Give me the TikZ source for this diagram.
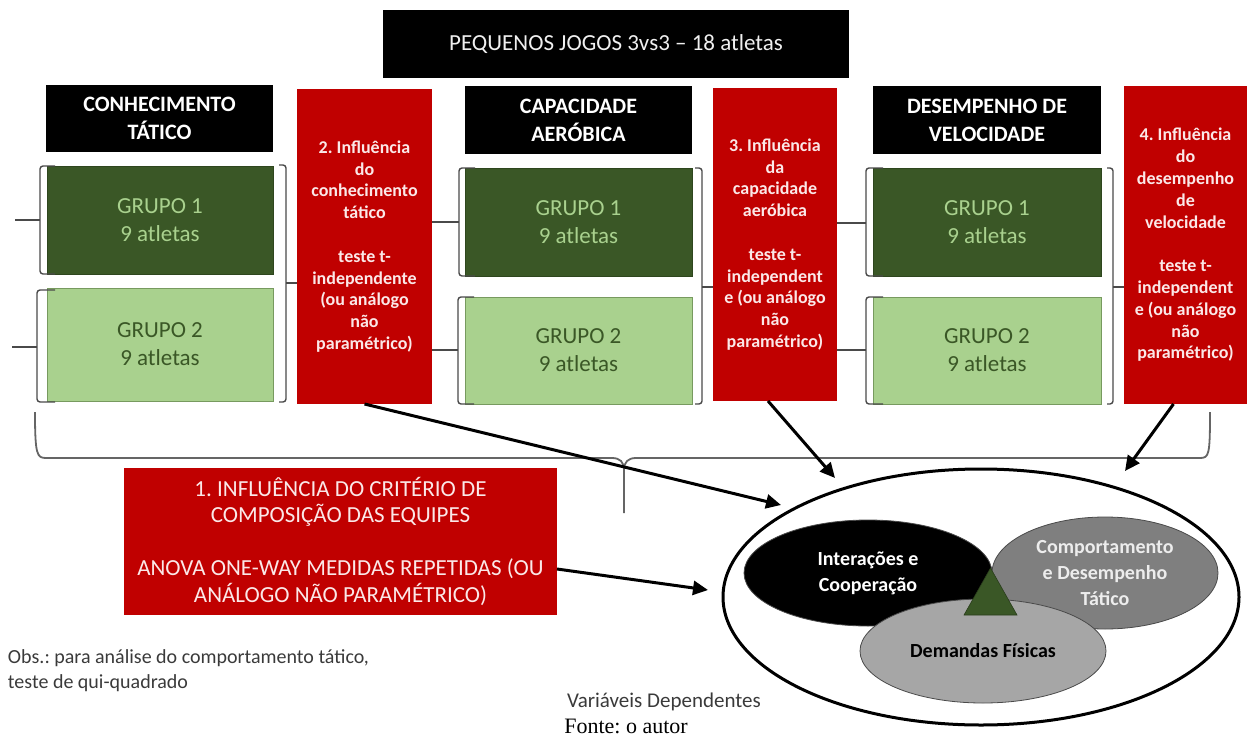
\documentclass[tikz,border=0pt]{standalone}
\usepackage{fontspec}
\setmainfont{Carlito}
\newfontfamily\capfont{Liberation Serif}
\usetikzlibrary{shapes.geometric,arrows.meta,calc}
\frenchspacing

\definecolor{redbox}{HTML}{C00000}
\definecolor{darkgreen}{HTML}{3A5726}
\definecolor{lightgreen}{HTML}{A9D18E}
\definecolor{bracegray}{HTML}{4A4A4A}
\definecolor{textgray}{HTML}{3A3A3A}
\definecolor{midgray}{HTML}{7F7F7F}
\definecolor{lightgray}{HTML}{A6A6A6}
\definecolor{pinkwhite}{HTML}{FBE8E8}

\newcommand\fsz[2]{\fontsize{#1}{#2}\selectfont}

\begin{document}
\begin{tikzpicture}[x=1pt,y=-1pt,
  every node/.style={inner sep=0pt,outer sep=0pt},
  blackhead/.style={rectangle,fill=black,text=white,align=center,font=\fsz{22}{28}\bfseries},
  grpdark/.style={rectangle,fill=darkgreen,draw=darkgreen!80!black,line width=0.6pt,text=lightgreen,align=center,font=\fsz{23}{28}},
  grplight/.style={rectangle,fill=lightgreen,draw=darkgreen!45!lightgreen,line width=0.6pt,text=darkgreen,align=center,font=\fsz{23}{28}},
  testbox/.style={rectangle,fill=redbox,text=pinkwhite,align=center,font=\fsz{18}{21.8}\bfseries},
  brk/.style={draw=bracegray,line width=1.4pt,rounded corners=3pt},
  bigbrace/.style={draw=bracegray!85!white,line width=1.8pt},
  arr/.style={draw=black,line width=3pt,-{Triangle[length=15pt,width=14pt]}},
  venn/.style={ellipse,draw=bracegray,line width=0.8pt,align=center,font=\fsz{20}{26}\bfseries},
  note/.style={text=textgray,font=\fsz{20}{25},align=left}
]
\useasboundingbox (0,0) rectangle (1252,738);

% title bar
\node[rectangle,fill=black,text=white!94!black,font=\fsz{23}{28},minimum width=466,minimum height=68]
  (title) at (616,44) {PEQUENOS JOGOS 3vs3 -- 18 atletas};

% column headers
\node[blackhead,minimum width=227,minimum height=67] (h1) at (159.5,118.5) {CONHECIMENTO\\TÁTICO};
\node[blackhead,minimum width=227,minimum height=68] (h2) at (578.5,120) {CAPACIDADE\\AERÓBICA};
\node[blackhead,minimum width=228,minimum height=68] (h3) at (987,120) {DESEMPENHO DE\\VELOCIDADE};

% groups
\node[grpdark,minimum width=226,minimum height=108] (g11) at (160,220) {GRUPO 1\\9 atletas};
\node[grplight,minimum width=226,minimum height=113] (g12) at (160,344.5) {GRUPO 2\\9 atletas};
\node[grpdark,minimum width=227,minimum height=108] (g21) at (578.5,222) {GRUPO 1\\9 atletas};
\node[grplight,minimum width=227,minimum height=107] (g22) at (578.5,350.5) {GRUPO 2\\9 atletas};
\node[grpdark,minimum width=228,minimum height=108] (g31) at (987,222) {GRUPO 1\\9 atletas};
\node[grplight,minimum width=228,minimum height=107] (g32) at (987,350.5) {GRUPO 2\\9 atletas};

% pairwise tests
\node[testbox,minimum width=135,minimum height=315] (red2) at (364.5,246.5)
  {2. Influência\\do\\conhecimento\\tático\\[21.8pt]teste t-\\independente\\(ou análogo\\não\\paramétrico)};
\node[testbox,minimum width=124,minimum height=313] (red3) at (775,244.5)
  {3. Influência\\da\\capacidade\\aeróbica\\[21.8pt]teste t-\\independent\\e (ou análogo\\não\\paramétrico)};
\node[testbox,minimum width=123,minimum height=318] (red4) at (1185.5,245)
  {4. Influência\\do\\desempenho\\de\\velocidade\\[21.8pt]teste t-\\independent\\e (ou análogo\\não\\paramétrico)};

% overall test
\node[rectangle,fill=redbox,text=pinkwhite,align=center,font=\fsz{23}{26.5},minimum width=433,minimum height=147]
  (red1) at (340.5,541)
  {1. INFLUÊNCIA DO CRITÉRIO DE\\COMPOSIÇÃO DAS EQUIPES\\[26.5pt]ANOVA ONE-WAY MEDIDAS REPETIDAS (OU\\ANÁLOGO NÃO PARAMÉTRICO)};

% brackets, column 1
\draw[brk] (55,166) -- (40,166) -- (40,274) -- (55,274);
\draw[brk] (40,220) -- (15,220);
\draw[brk] (55,290) -- (37,290) -- (37,402) -- (55,402);
\draw[brk] (37,347) -- (12,347);
\draw[brk] (279,165) -- (286,165) -- (286,402) -- (279,402);
\draw[brk] (286,283) -- (297,283);
% brackets, column 2
\draw[brk] (475,168) -- (459,168) -- (459,276) -- (475,276);
\draw[brk] (432,222) -- (459,222);
\draw[brk] (474,297) -- (458,297) -- (458,404) -- (474,404);
\draw[brk] (432,350) -- (458,350);
\draw[brk] (695,168) -- (702,168) -- (702,404) -- (695,404);
\draw[brk] (702,287) -- (713,287);
% brackets, column 3
\draw[brk] (883,168) -- (866,168) -- (866,276) -- (883,276);
\draw[brk] (837,223) -- (866,223);
\draw[brk] (883,297) -- (866,297) -- (866,404) -- (883,404);
\draw[brk] (837,350) -- (866,350);
\draw[brk] (1107,168) -- (1113,168) -- (1113,404) -- (1107,404);
\draw[brk] (1113,287) -- (1124,287);

% brace under all three criteria
\draw[bigbrace] (35,412) .. controls (35,455) and (37,458) .. (46,458) -- (612,458)
  .. controls (620,458) and (624,462) .. (624,470) -- (624,513);
\draw[bigbrace] (624,470) .. controls (624,462) and (628,458) .. (636,458) -- (1200,458)
  .. controls (1209,458) and (1210,455) .. (1210,412);

% dependent variables
\node[ellipse,draw=black,line width=3pt,minimum width=516,minimum height=256] (dv) at (981,597) {};
\node[venn,fill=black,text=white,minimum width=248,minimum height=106] (ic) at (868,573) {Interações e\\Cooperação};
\node[venn,fill=midgray,text=white!93!black,minimum width=226,minimum height=112] (cd) at (1105,573) {Comportamento\\e Desempenho\\Tático};
\node[venn,fill=lightgray,text=black,minimum width=246,minimum height=104] (df) at (983,651) {Demandas Físicas};
\fill[darkgreen,draw=darkgreen!70!black,line width=0.6pt] (964,615) -- (1017,615) -- (990.5,568) -- cycle;

% arrows into the dependent variables
\coordinate (t1) at (708,590);
\coordinate (t2) at (781,505);
\coordinate (t3) at (835,478);
\coordinate (t4) at (1125,471);
\draw[arr] ($(red1.east)+(0,28)$) -- (t1);
\draw[arr] (red2.south) -- (t2);
\draw[arr] ($(red3.south)+(-7,0)$) -- (t3);
\draw[arr] ($(red4.south)+(-12,0)$) -- (t4);

% notes
\node[note,anchor=west] (obs) at (8,670.5) {Obs.: para análise do comportamento tático,\\teste de qui-quadrado};
\node[note,anchor=west,font=\fsz{21}{25}] (vd) at (567,702) {Variáveis Dependentes};
\node[font=\capfont\fsz{22}{24}] (src) at (626,726) {Fonte: o autor};
\end{tikzpicture}
\end{document}
